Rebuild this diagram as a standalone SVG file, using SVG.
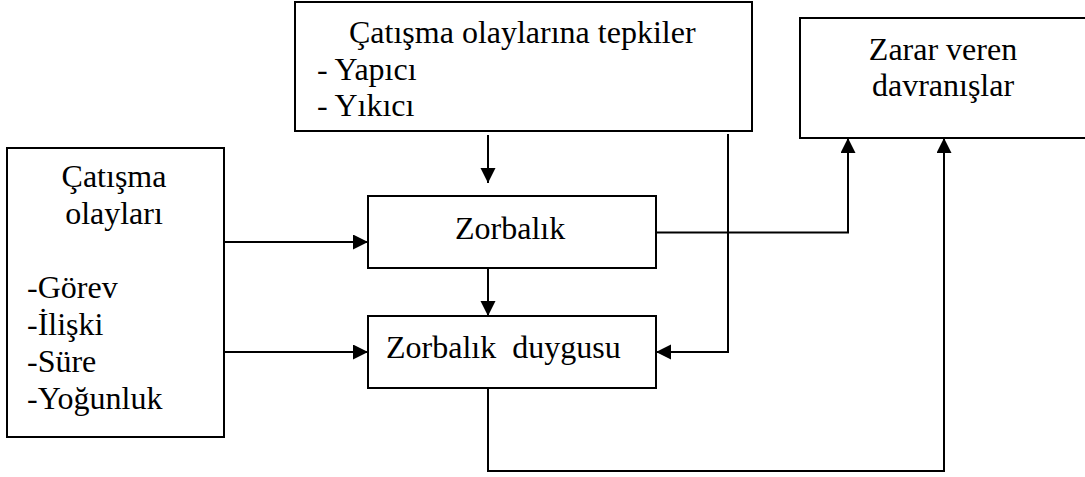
<svg xmlns="http://www.w3.org/2000/svg" width="1085" height="477" viewBox="0 0 1085 477">
  <style>
    .box { fill: #ffffff; stroke: #000000; stroke-width: 2; }
    .lbl { font-family: "Liberation Serif", "Times New Roman", serif; font-size: 32px; fill: #000000; }
    .mid { text-anchor: middle; }
    .wire { fill: none; stroke: #000000; stroke-width: 2; }
  </style>
  <defs>
    <marker id="arrow" markerUnits="userSpaceOnUse" markerWidth="16" markerHeight="16" refX="15" refY="7.5" orient="auto">
      <path d="M0,0 L15,7.5 L0,15 Z" fill="#000000"/>
    </marker>
  </defs>
  <rect width="1085" height="477" fill="#ffffff"/>

  <g id="tepkiler">
    <rect class="box" x="295" y="2" width="457" height="129"/>
    <text class="lbl" x="349" y="43">Çatışma olaylarına tepkiler</text>
    <text class="lbl" x="317" y="80">- Yapıcı</text>
    <text class="lbl" x="317" y="116">- Yıkıcı</text>
  </g>

  <g id="zarar">
    <rect class="box" x="800" y="18" width="290" height="120"/>
    <text class="lbl mid" x="943" y="60">Zarar veren</text>
    <text class="lbl mid" x="943" y="96">davranışlar</text>
  </g>

  <g id="olaylar">
    <rect class="box" x="7" y="148" width="217" height="289"/>
    <text class="lbl mid" x="114" y="187">Çatışma</text>
    <text class="lbl mid" x="114" y="224">olayları</text>
    <text class="lbl" x="27" y="298">-Görev</text>
    <text class="lbl" x="27" y="335">-İlişki</text>
    <text class="lbl" x="27" y="372">-Süre</text>
    <text class="lbl" x="27" y="409">-Yoğunluk</text>
  </g>

  <g id="zorbalik">
    <rect class="box" x="368" y="196" width="288" height="72"/>
    <text class="lbl" x="455" y="239">Zorbalık</text>
  </g>

  <g id="duygu">
    <rect class="box" x="368" y="316" width="288" height="72"/>
    <text class="lbl" x="386" y="358" xml:space="preserve">Zorbalık  duygusu</text>
  </g>

  <g id="connectors">
    <path class="wire" d="M488,135 V183" marker-end="url(#arrow)"/>
    <path class="wire" d="M488,268 V316" marker-end="url(#arrow)"/>
    <path class="wire" d="M224,242 H368" marker-end="url(#arrow)"/>
    <path class="wire" d="M224,352 H368" marker-end="url(#arrow)"/>
    <path class="wire" d="M728,134 V352 H656" marker-end="url(#arrow)"/>
    <path class="wire" d="M656,232.5 H848 V138" marker-end="url(#arrow)"/>
    <path class="wire" d="M488,388 V471 H944 V138" marker-end="url(#arrow)"/>
  </g>
</svg>
